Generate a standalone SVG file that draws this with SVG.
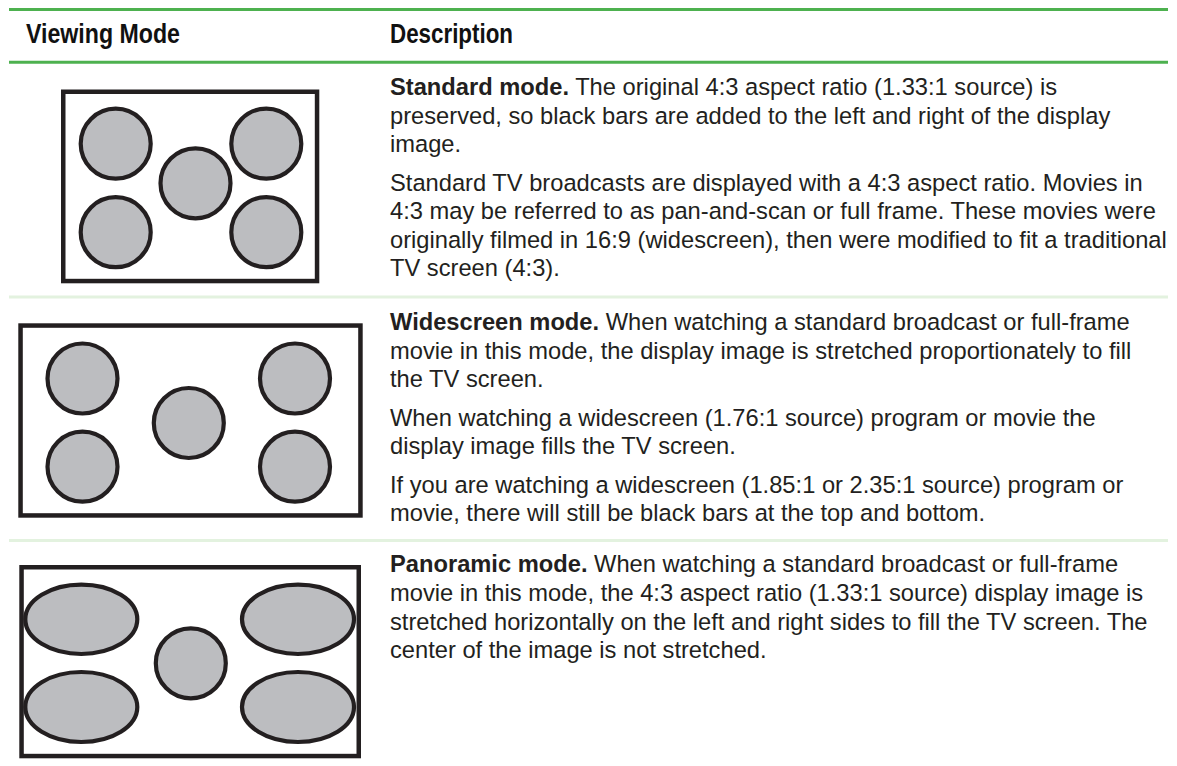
<svg xmlns="http://www.w3.org/2000/svg" width="1177" height="766" viewBox="0 0 1177 766">
<style>
.hd{font-family:"Liberation Sans",Arial,sans-serif;font-weight:bold;font-size:27px;fill:#111;}
.tx{font-family:"Liberation Sans",Arial,sans-serif;font-size:23.7px;fill:#231f20;}
.b{font-weight:bold;}
.frame{fill:#fff;stroke:#231f20;stroke-width:4.5;}
.dot{fill:#bcbdc0;stroke:#231f20;stroke-width:4.2;}
.gl{stroke:#4db14f;stroke-width:3;}
.sep{stroke:#e3f2df;stroke-width:3;}
</style>
<rect width="1177" height="766" fill="#fff"/>
<g id="rules">
<line class="gl" x1="9" y1="9.5" x2="1168" y2="9.5"/>
<line class="gl" x1="9" y1="62.3" x2="1168" y2="62.3"/>
<line class="sep" x1="9" y1="297" x2="1168" y2="297"/>
<line class="sep" x1="9" y1="540.5" x2="1168" y2="540.5"/>
</g>
<g id="header">
<text class="hd" x="26" y="43.3" textLength="154" lengthAdjust="spacingAndGlyphs">Viewing Mode</text>
<text class="hd" x="390" y="43.3" textLength="123" lengthAdjust="spacingAndGlyphs">Description</text>
</g>
<g id="standard-image">
<rect class="frame" x="63.25" y="91.75" width="253.8" height="189.3"/>
<circle class="dot" cx="115.7" cy="143.7" r="35"/>
<circle class="dot" cx="266.3" cy="143.7" r="35"/>
<circle class="dot" cx="195.5" cy="183.3" r="35"/>
<circle class="dot" cx="115.7" cy="232.2" r="35"/>
<circle class="dot" cx="266.3" cy="232.2" r="35"/>
</g>
<g id="standard-text">
<text class="tx" x="390" y="95"><tspan class="b">Standard mode.</tspan> The original 4:3 aspect ratio (1.33:1 source) is</text>
<text class="tx" x="390" y="123.5">preserved, so black bars are added to the left and right of the display</text>
<text class="tx" x="390" y="152">image.</text>
<text class="tx" x="390" y="190.5">Standard TV broadcasts are displayed with a 4:3 aspect ratio. Movies in</text>
<text class="tx" x="390" y="219">4:3 may be referred to as pan-and-scan or full frame. These movies were</text>
<text class="tx" x="390" y="247.5">originally filmed in 16:9 (widescreen), then were modified to fit a traditional</text>
<text class="tx" x="390" y="276">TV screen (4:3).</text>
</g>
<g id="widescreen-image">
<rect class="frame" x="20.55" y="325.55" width="339.9" height="189.9"/>
<circle class="dot" cx="82.5" cy="378.5" r="35"/>
<circle class="dot" cx="295" cy="378.5" r="35"/>
<circle class="dot" cx="188.8" cy="423" r="35"/>
<circle class="dot" cx="82.5" cy="466.7" r="35"/>
<circle class="dot" cx="295" cy="466.7" r="35"/>
</g>
<g id="widescreen-text">
<text class="tx" x="390" y="330"><tspan class="b">Widescreen mode.</tspan> When watching a standard broadcast or full-frame</text>
<text class="tx" x="390" y="358.5">movie in this mode, the display image is stretched proportionately to fill</text>
<text class="tx" x="390" y="387">the TV screen.</text>
<text class="tx" x="390" y="425.5">When watching a widescreen (1.76:1 source) program or movie the</text>
<text class="tx" x="390" y="454">display image fills the TV screen.</text>
<text class="tx" x="390" y="492.5">If you are watching a widescreen (1.85:1 or 2.35:1 source) program or</text>
<text class="tx" x="390" y="521">movie, there will still be black bars at the top and bottom.</text>
</g>
<g id="panoramic-image">
<rect class="frame" x="21.55" y="567.25" width="337.2" height="188.8"/>
<ellipse class="dot" cx="81.3" cy="619.3" rx="56" ry="34.7"/>
<ellipse class="dot" cx="298" cy="619.3" rx="56" ry="34.7"/>
<circle class="dot" cx="190.8" cy="663.3" r="35"/>
<ellipse class="dot" cx="81.3" cy="707" rx="56" ry="35"/>
<ellipse class="dot" cx="298" cy="707" rx="56" ry="35"/>
</g>
<g id="panoramic-text">
<text class="tx" x="390" y="572"><tspan class="b">Panoramic mode.</tspan> When watching a standard broadcast or full-frame</text>
<text class="tx" x="390" y="601">movie in this mode, the 4:3 aspect ratio (1.33:1 source) display image is</text>
<text class="tx" x="390" y="629.5">stretched horizontally on the left and right sides to fill the TV screen. The</text>
<text class="tx" x="390" y="658">center of the image is not stretched.</text>
</g>
</svg>
